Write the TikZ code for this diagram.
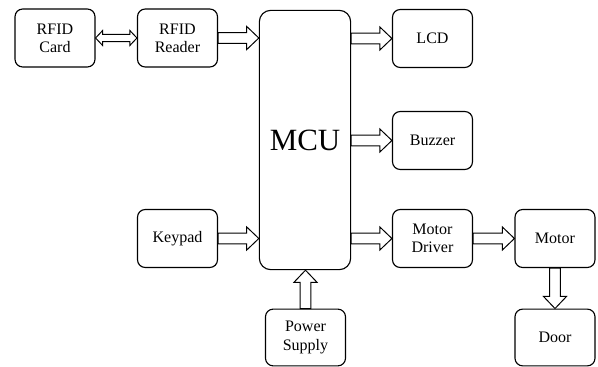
\documentclass[tikz,border=0pt]{standalone}
\usepackage{fontspec}
\setmainfont{Liberation Serif}
\usetikzlibrary{calc}

% block arrows: shaft half width, head half width, head length
\newcommand{\shaftw}{3.9pt}
\newcommand{\headw}{8.2pt}
\newcommand{\headl}{8.6pt}
\newcommand{\blockR}[2]{%
  \draw[arr] let \p1=(#1), \p2=(#2) in
    (\x1,\y1+\shaftw) -- (\x2-\headl,\y1+\shaftw) -- (\x2-\headl,\y1+\headw)
    -- (\x2,\y1) -- (\x2-\headl,\y1-\headw) -- (\x2-\headl,\y1-\shaftw)
    -- (\x1,\y1-\shaftw) -- cycle;}
\newcommand{\blockU}[2]{%
  \draw[arr] let \p1=(#1), \p2=(#2) in
    (\x1-\shaftw,\y1) -- (\x1-\shaftw,\y2-\headl) -- (\x1-\headw,\y2-\headl)
    -- (\x1,\y2) -- (\x1+\headw,\y2-\headl) -- (\x1+\shaftw,\y2-\headl)
    -- (\x1+\shaftw,\y1) -- cycle;}
\newcommand{\blockD}[2]{%
  \draw[arr] let \p1=(#1), \p2=(#2) in
    (\x1-\shaftw,\y1) -- (\x1-\shaftw,\y2+\headl) -- (\x1-\headw,\y2+\headl)
    -- (\x1,\y2) -- (\x1+\headw,\y2+\headl) -- (\x1+\shaftw,\y2+\headl)
    -- (\x1+\shaftw,\y1) -- cycle;}
\newcommand{\blockLR}[2]{%
  \draw[arr] let \p1=(#1), \p2=(#2) in
    (\x1,\y1) -- (\x1+5pt,\y1+5.3pt) -- (\x1+5pt,\y1+2.6pt)
    -- (\x2-5pt,\y1+2.6pt) -- (\x2-5pt,\y1+5.3pt) -- (\x2,\y1)
    -- (\x2-5pt,\y1-5.3pt) -- (\x2-5pt,\y1-2.6pt) -- (\x1+5pt,\y1-2.6pt)
    -- (\x1+5pt,\y1-5.3pt) -- cycle;}

\tikzset{
  blk/.style={draw,line width=0.8pt,rounded corners=5.5pt,align=center,
    minimum width=2.0cm,minimum height=1.45cm,inner sep=1pt,
    font=\fontsize{11.4pt}{13pt}\selectfont},
  arr/.style={draw,fill=white,line width=0.7pt,line join=miter}
}

\begin{document}
\begin{tikzpicture}[x=0.025cm,y=-0.025cm]
    \useasboundingbox (0,0) rectangle (598,367);
    % blocks
    \node[blk] (card) at (55,38) {RFID\\Card};
    \node[blk] (reader) at (177.5,38) {RFID\\Reader};
    \node[blk,minimum width=2.28cm,minimum height=6.48cm,rounded corners=8pt,
      font=\fontsize{22pt}{24pt}\selectfont] (mcu) at (305,140) {MCU};
    \node[blk] (lcd) at (432.5,38.5) {LCD};
    \node[blk] (buzzer) at (432.5,140.5) {Buzzer};
    \node[blk] (keypad) at (177.5,238.5) {Keypad};
    \node[blk] (driver) at (432.5,238.5) {Motor\\Driver};
    \node[blk] (motor) at (555,238.5) {Motor};
    \node[blk,minimum height=1.42cm] (power) at (305.5,337.5) {Power\\Supply};
    \node[blk,minimum height=1.42cm] (door) at (555,337.5) {Door};
    % arrows
    \blockLR{card.east}{reader.west}
    \blockR{reader.east}{reader.east -| mcu.west}
    \blockR{keypad.east}{keypad.east -| mcu.west}
    \blockR{mcu.east |- lcd.west}{lcd.west}
    \blockR{mcu.east |- buzzer.west}{buzzer.west}
    \blockR{mcu.east |- driver.west}{driver.west}
    \blockR{driver.east}{motor.west}
    \blockU{power.north}{power.north |- mcu.south}
    \blockD{motor.south}{door.north}
\end{tikzpicture}
\end{document}
